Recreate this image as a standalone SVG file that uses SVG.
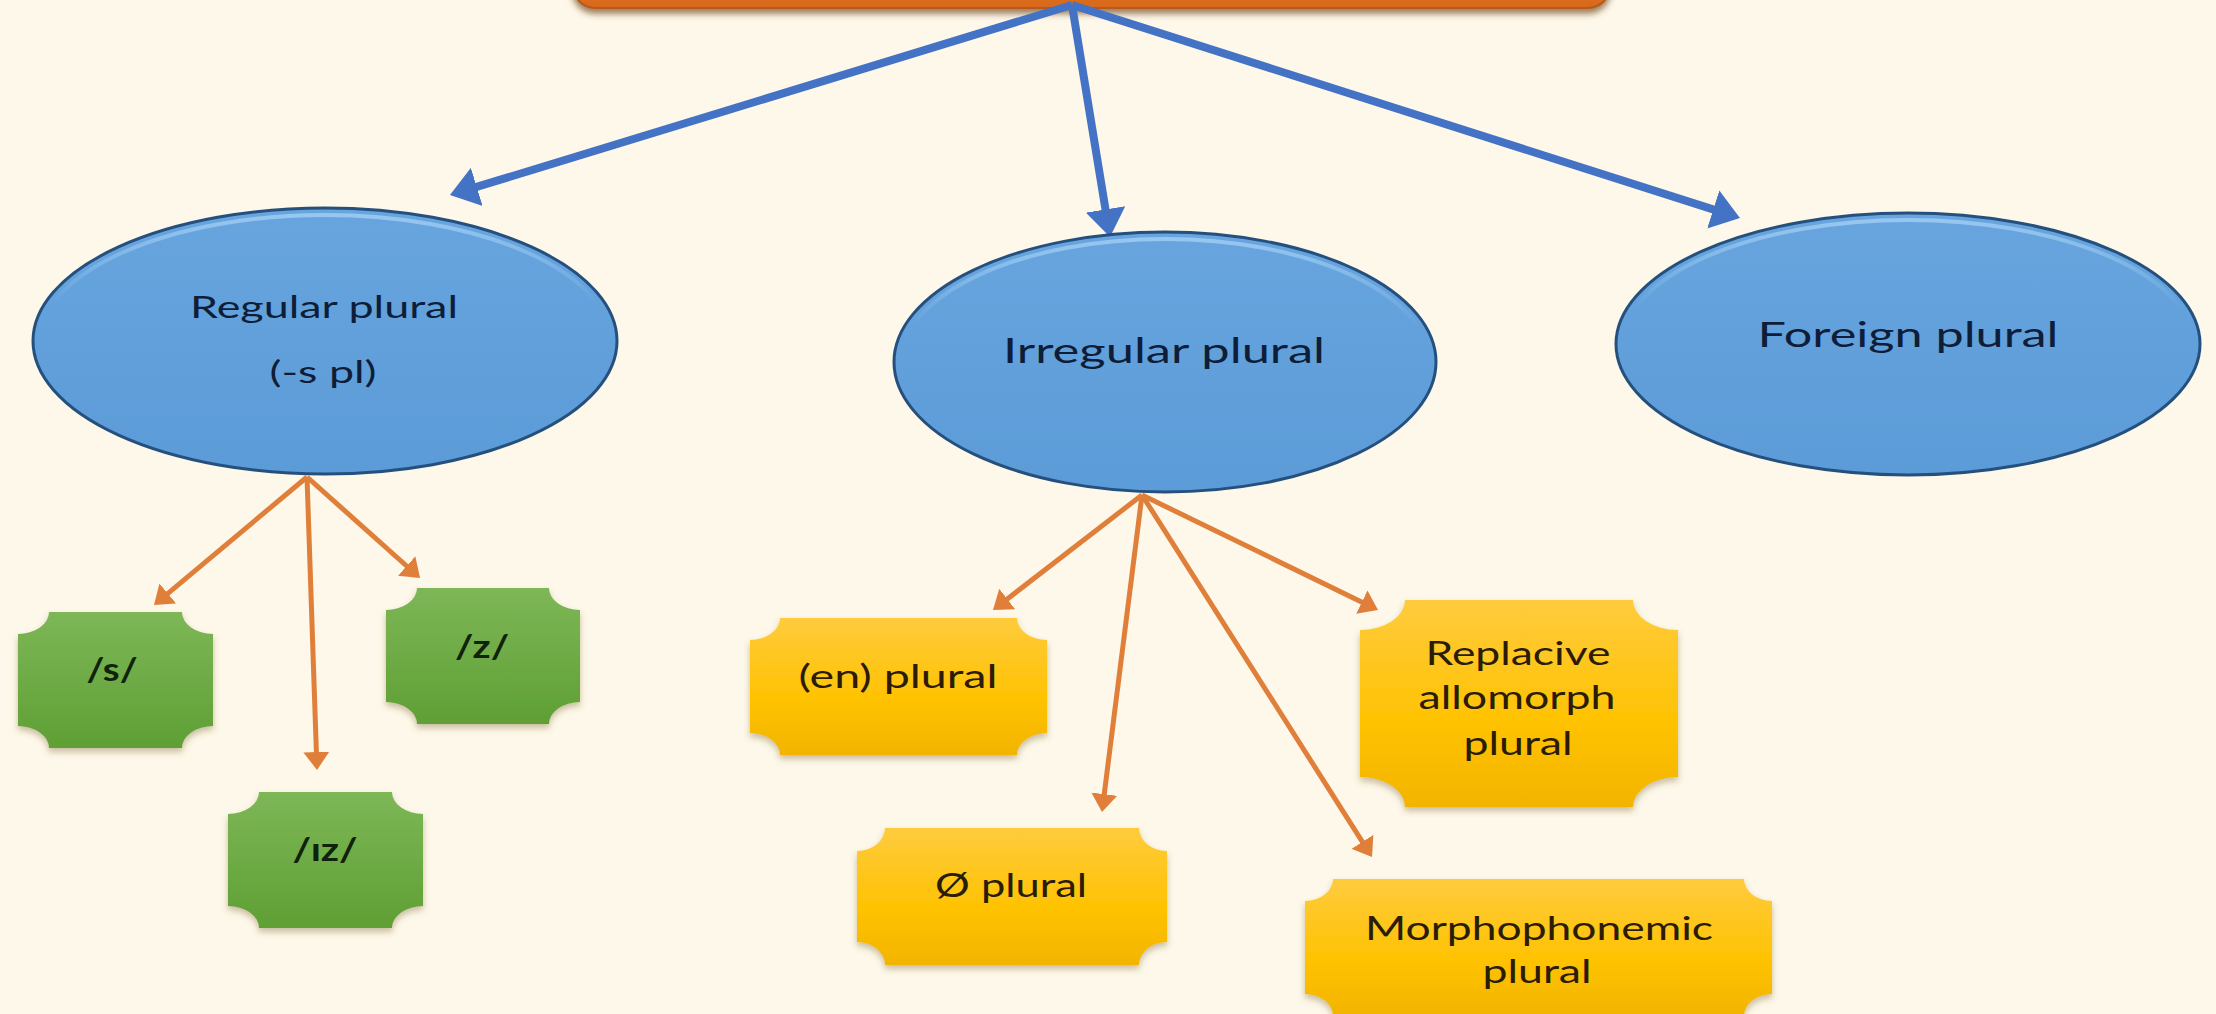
<svg xmlns="http://www.w3.org/2000/svg" width="2216" height="1014" viewBox="0 0 2216 1014">
  <defs>
    <style>
      .bg { fill: #FDF8E9; }
      .ell { fill: url(#blueFill); stroke: #25507E; stroke-width: 3; }
      .rim { fill: none; stroke: url(#rimGrad); stroke-width: 4; }
      .green { fill: url(#greenFill); filter: url(#shadow); }
      .yellow { fill: url(#yellowFill); filter: url(#shadow); }
      .blue-arrow { fill: none; stroke: #4472C4; stroke-width: 8; marker-end: url(#headBlue); }
      .orange-arrow { fill: none; stroke: #E07F3A; stroke-width: 5; marker-end: url(#headOrange); }
      .t-ell { font-family: Lato, "Open Sans", "Liberation Sans", sans-serif; fill: #0E1D38; text-anchor: middle; }
      .t-yel { font-family: Lato, "Open Sans", "Liberation Sans", sans-serif; fill: #2A1C05; text-anchor: middle; font-size: 32px; }
      .t-grn { font-family: Lato, "Open Sans", "Liberation Sans", sans-serif; fill: #10220A; text-anchor: middle; font-size: 33px; font-weight: bold; }
    </style>
    <linearGradient id="blueFill" x1="0" y1="0" x2="0" y2="1">
      <stop offset="0" stop-color="#68A5DF"/>
      <stop offset="1" stop-color="#5B9BD7"/>
    </linearGradient>
    <linearGradient id="rimGrad" x1="0" y1="0" x2="0" y2="1">
      <stop offset="0" stop-color="#9CCBF2" stop-opacity="0.9"/>
      <stop offset="0.35" stop-color="#9CCBF2" stop-opacity="0"/>
      <stop offset="1" stop-color="#9CCBF2" stop-opacity="0"/>
    </linearGradient>
    <linearGradient id="greenFill" x1="0" y1="0" x2="0" y2="1">
      <stop offset="0" stop-color="#7DB757"/>
      <stop offset="1" stop-color="#5F9F34"/>
    </linearGradient>
    <linearGradient id="yellowFill" x1="0" y1="0" x2="0" y2="1">
      <stop offset="0" stop-color="#FECB3E"/>
      <stop offset="0.6" stop-color="#FFC200"/>
      <stop offset="1" stop-color="#F2B400"/>
    </linearGradient>
    <linearGradient id="orangeFill" x1="0" y1="0" x2="0" y2="1">
      <stop offset="0" stop-color="#EE8A35"/>
      <stop offset="1" stop-color="#D8681A"/>
    </linearGradient>
    <filter id="shadow" x="-10%" y="-10%" width="120%" height="130%">
      <feDropShadow dx="0" dy="4" stdDeviation="3" flood-color="#6B5020" flood-opacity="0.35"/>
    </filter>
    <filter id="topShadow" x="-5%" y="-20%" width="110%" height="160%">
      <feDropShadow dx="0" dy="5" stdDeviation="3" flood-color="#5A3000" flood-opacity="0.6"/>
    </filter>
    <marker id="headBlue" viewBox="0 0 28 40" refX="8" refY="20" markerWidth="28" markerHeight="40" markerUnits="userSpaceOnUse" orient="auto">
      <path d="M0,0 L28,20 L0,40 Z" fill="#4472C4"/>
    </marker>
    <marker id="headOrange" viewBox="0 0 18 26" refX="6" refY="13" markerWidth="18" markerHeight="26" markerUnits="userSpaceOnUse" orient="auto">
      <path d="M0,0 L18,13 L0,26 Z" fill="#E07F3A"/>
    </marker>
  </defs>

  <rect class="bg" x="0" y="0" width="2216" height="1014"/>

  <g id="root">
    <rect x="573" y="-60" width="1037" height="68" rx="22" fill="url(#orangeFill)" stroke="#B8581A" stroke-width="2" filter="url(#topShadow)"/>
  </g>

  <g id="connectors">
    <path class="blue-arrow" d="M1072,5 L469.1,189.2"/>
    <path class="blue-arrow" d="M1072,5 L1106.8,217.3"/>
    <path class="blue-arrow" d="M1072,5 L1720.9,211.9"/>
    <path class="orange-arrow" d="M307,477 L163.2,597.3"/>
    <path class="orange-arrow" d="M307,477 L411.1,570.0"/>
    <path class="orange-arrow" d="M307,477 L316.6,758.0"/>
    <path class="orange-arrow" d="M1142,495 L1002.5,602.7"/>
    <path class="orange-arrow" d="M1142,495 L1103.5,800.1"/>
    <path class="orange-arrow" d="M1142,495 L1367.2,604.7"/>
    <path class="orange-arrow" d="M1142,495 L1365.6,846.9"/>
  </g>

  <g id="regular">
    <ellipse class="ell" cx="325" cy="341" rx="292" ry="133"/>
    <ellipse class="rim" cx="325" cy="343" rx="286" ry="128"/>
    <text class="t-ell" x="324" y="318" font-size="31" textLength="268" lengthAdjust="spacingAndGlyphs">Regular plural</text>
    <text class="t-ell" x="323" y="383" font-size="31" textLength="107" lengthAdjust="spacingAndGlyphs">(-s pl)</text>
  </g>

  <g id="irregular">
    <ellipse class="ell" cx="1165" cy="362" rx="271" ry="130"/>
    <ellipse class="rim" cx="1165" cy="364" rx="265" ry="125"/>
    <text class="t-ell" x="1164" y="363" font-size="35" textLength="322" lengthAdjust="spacingAndGlyphs">Irregular plural</text>
  </g>

  <g id="foreign">
    <ellipse class="ell" cx="1908" cy="344" rx="292" ry="131"/>
    <ellipse class="rim" cx="1908" cy="346" rx="286" ry="126"/>
    <text class="t-ell" x="1908" y="347" font-size="35" textLength="301" lengthAdjust="spacingAndGlyphs">Foreign plural</text>
  </g>

  <g id="s">
    <path class="green" d="M49,612 H182 A31 22 0 0 0 213,634 V726 A31 22 0 0 0 182,748 H49 A31 22 0 0 0 18,726 V634 A31 22 0 0 0 49,612 Z"/>
    <text class="t-grn" x="112" y="681" textLength="51" lengthAdjust="spacingAndGlyphs">/s/</text>
  </g>

  <g id="z">
    <path class="green" d="M417,588 H549 A31 22 0 0 0 580,610 V702 A31 22 0 0 0 549,724 H417 A31 22 0 0 0 386,702 V610 A31 22 0 0 0 417,588 Z"/>
    <text class="t-grn" x="482" y="658" textLength="54" lengthAdjust="spacingAndGlyphs">/z/</text>
  </g>

  <g id="iz">
    <path class="green" d="M259,792 H392 A31 22 0 0 0 423,814 V906 A31 22 0 0 0 392,928 H259 A31 22 0 0 0 228,906 V814 A31 22 0 0 0 259,792 Z"/>
    <text class="t-grn" x="325" y="861" textLength="65" lengthAdjust="spacingAndGlyphs">/ɪz/</text>
  </g>

  <g id="en">
    <path class="yellow" d="M780,618 H1017 A30 22 0 0 0 1047,640 V733 A30 22 0 0 0 1017,755 H780 A30 22 0 0 0 750,733 V640 A30 22 0 0 0 780,618 Z"/>
    <text class="t-yel" x="898" y="688" textLength="199" lengthAdjust="spacingAndGlyphs">(en) plural</text>
  </g>

  <g id="zero">
    <path class="yellow" d="M885,828 H1139 A28 23 0 0 0 1167,851 V942 A28 23 0 0 0 1139,965 H885 A28 23 0 0 0 857,942 V851 A28 23 0 0 0 885,828 Z"/>
    <text class="t-yel" x="1011" y="897" textLength="152" lengthAdjust="spacingAndGlyphs">Ø plural</text>
  </g>

  <g id="replacive">
    <path class="yellow" d="M1405,600 H1633 A45 30 0 0 0 1678,630 V777 A45 30 0 0 0 1633,807 H1405 A45 30 0 0 0 1360,777 V630 A45 30 0 0 0 1405,600 Z"/>
    <text class="t-yel" x="1518" y="665" textLength="185" lengthAdjust="spacingAndGlyphs">Replacive</text>
    <text class="t-yel" x="1517" y="709" textLength="197" lengthAdjust="spacingAndGlyphs">allomorph</text>
    <text class="t-yel" x="1518" y="755" textLength="109" lengthAdjust="spacingAndGlyphs">plural</text>
  </g>

  <g id="morphophonemic">
    <path class="yellow" d="M1333,879 H1744 A28 22 0 0 0 1772,901 V994 A28 22 0 0 0 1744,1016 H1333 A28 22 0 0 0 1305,994 V901 A28 22 0 0 0 1333,879 Z"/>
    <text class="t-yel" x="1539" y="940" textLength="348" lengthAdjust="spacingAndGlyphs">Morphophonemic</text>
    <text class="t-yel" x="1537" y="983" textLength="109" lengthAdjust="spacingAndGlyphs">plural</text>
  </g>
</svg>
